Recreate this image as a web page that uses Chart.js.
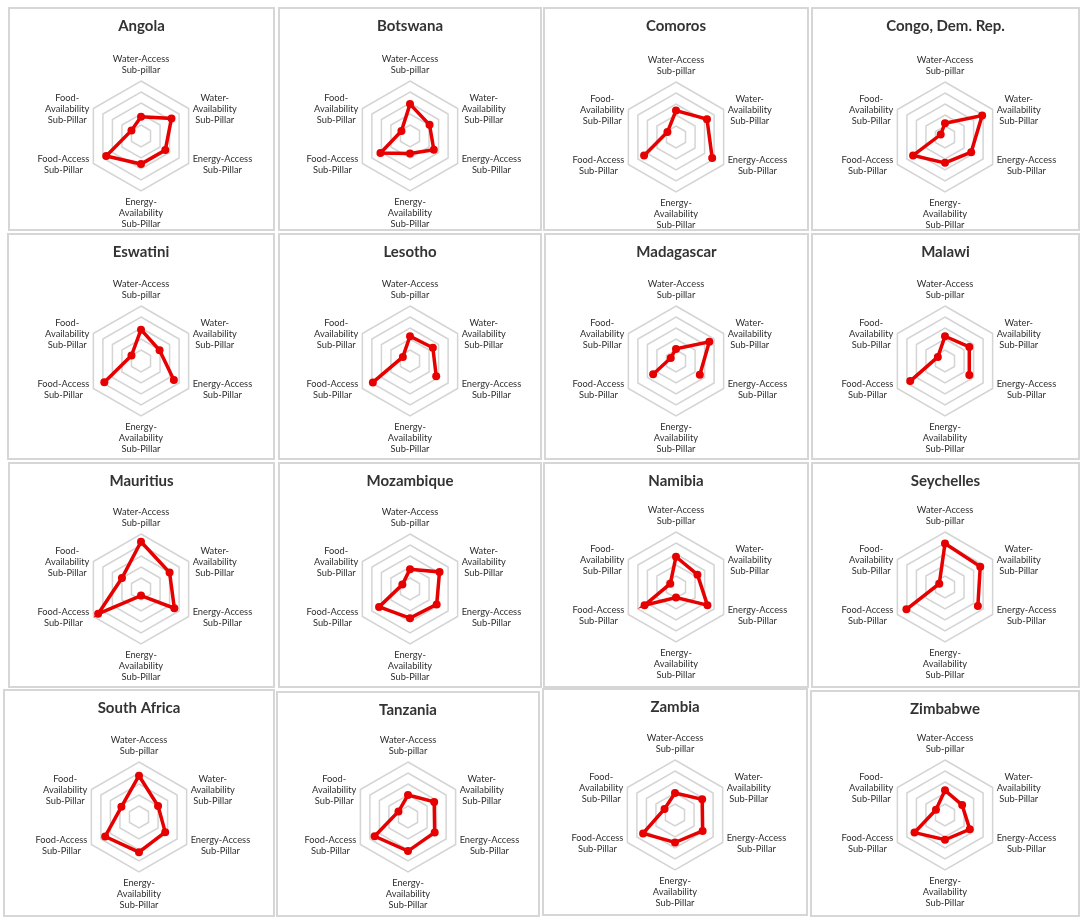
<!DOCTYPE html>
<html>
<head>
<meta charset="utf-8">
<script src="https://cdn.jsdelivr.net/npm/chart.js@4.4.1/dist/chart.umd.min.js"></script>
<style>
  body { margin: 0; background: #fff; }
  #wrap { position: relative; width: 1084px; height: 922px; overflow: hidden; }
  .panel { position: absolute; box-sizing: border-box; border: 2px solid #d6d6d6; background: #fff; }
  .panel canvas { position: absolute; left: 0; top: 0; }
</style>
</head>
<body>
<div id="wrap"></div>
<script>
// axis labels (clockwise from top)
const axisLabels = [
  ["Water-Access", "Sub-pillar"],
  ["Water-", "Availability", "Sub-Pillar"],
  ["Energy-Access", "Sub-Pillar"],
  ["Energy-", "Availability", "Sub-Pillar"],
  ["Food-Access", "Sub-Pillar"],
  ["Food-", "Availability", "Sub-Pillar"]
];

// sub-pillar scores, same order as axisLabels (null = no value)
const angola      = [0.35, 0.64, 0.51, 0.51, 0.73, 0.20];
const botswana    = [0.58, 0.41, 0.50, 0.32, 0.62, 0.18];
const comoros     = [0.48, 0.65, 0.76, null, 0.67, 0.18];
const congo       = [0.25, 0.78, 0.55, 0.47, 0.67, 0.09];
const eswatini    = [0.57, 0.39, 0.69, null, 0.77, 0.20];
const lesotho     = [0.45, 0.48, 0.55, null, 0.78, 0.15];
const madagascar  = [0.22, 0.70, 0.50, null, 0.48, 0.11];
const malawi      = [0.45, 0.51, 0.51, null, 0.73, 0.15];
const mauritius   = [0.86, 0.60, 0.70, 0.12, 0.90, 0.40];
const mozambique  = [0.36, 0.62, 0.56, 0.53, 0.65, 0.16];
const namibia     = [0.55, 0.45, 0.66, 0.19, 0.66, 0.12];
const seychelles  = [0.79, 0.74, 0.69, null, 0.81, 0.12];
const southAfrica = [0.75, 0.40, 0.55, 0.64, 0.71, 0.37];
const tanzania    = [0.40, 0.55, 0.56, 0.62, 0.70, 0.20];
const zambia      = [0.40, 0.57, 0.58, 0.50, 0.67, 0.22];
const zimbabwe    = [0.45, 0.36, 0.52, 0.45, 0.64, 0.19];

const countries = ["Angola", "Botswana", "Comoros", "Congo, Dem. Rep.",
  "Eswatini", "Lesotho", "Madagascar", "Malawi",
  "Mauritius", "Mozambique", "Namibia", "Seychelles",
  "South Africa", "Tanzania", "Zambia", "Zimbabwe"];
const series = [angola, botswana, comoros, congo,
  eswatini, lesotho, madagascar, malawi,
  mauritius, mozambique, namibia, seychelles,
  southAfrica, tanzania, zambia, zimbabwe];

// panel boxes on the page: x, y, w, h, chart centre y inside panel
const boxes = [
  [8, 7, 267, 224, 129], [278, 7, 264, 224, 129], [543, 7, 266, 224, 130], [811, 7, 269, 224, 130],
  [7, 233, 268, 227, 128], [278, 233, 264, 227, 128], [544, 233, 265, 227, 128], [811, 233, 269, 227, 128],
  [8, 462, 267, 226, 127], [278, 462, 264, 226, 127], [543, 462, 266, 226, 125], [811, 462, 269, 226, 125],
  [3, 689, 272, 228, 128], [276, 691, 264, 226, 126], [542, 688, 266, 228, 127], [810, 690, 270, 227, 125]
];

Chart.defaults.font.family = "Lato, 'Open Sans', sans-serif";

const RED = "#e60000";
const R = 55;

// axis labels placed around the outer ring, Excel style
const axisLabelPlugin = {
  id: "axisLabels",
  afterDatasetsDraw(chart) {
    const ctx = chart.ctx;
    const r = chart.scales.r;
    const lh = 11;
    ctx.save();
    ctx.font = "9.3px Lato";
    ctx.fillStyle = "#2e2e2e";
    ctx.textAlign = "center";
    ctx.textBaseline = "middle";
    axisLabels.forEach((lines, i) => {
      const v = r.getPointPosition(i, r.drawingArea);
      const bw = Math.max(...lines.map(t => ctx.measureText(t).width));
      let cx, y0;
      if (i === 0) {
        cx = v.x; y0 = v.y - 11.5 - (lines.length - 1) * lh;
      } else if (i === 3) {
        cx = v.x; y0 = v.y + 10.5;
      } else if (i < 3) {
        cx = v.x + 4 + bw / 2; y0 = v.y + 0.5 - (lines.length - 1) * lh / 2;
      } else {
        cx = v.x - 4 - bw / 2; y0 = v.y + 0.5 - (lines.length - 1) * lh / 2;
      }
      lines.forEach((t, k) => ctx.fillText(t, cx, y0 + k * lh));
    });
    ctx.restore();
  }
};

const wrap = document.getElementById("wrap");

countries.forEach((name, idx) => {
  const [x, y, w, h, cy] = boxes[idx];
  const div = document.createElement("div");
  div.className = "panel";
  div.style.left = x + "px";
  div.style.top = y + "px";
  div.style.width = w + "px";
  div.style.height = h + "px";
  const cw = w - 4, ch = h - 4;
  const canvas = document.createElement("canvas");
  canvas.width = cw;
  canvas.height = ch;
  canvas.style.width = cw + "px";
  canvas.style.height = ch + "px";
  div.appendChild(canvas);
  wrap.appendChild(div);

  const c = cy - 2; // centre inside canvas
  new Chart(canvas.getContext("2d"), {
    type: "radar",
    data: {
      labels: axisLabels,
      datasets: [{
        data: series[idx],
        borderColor: RED,
        backgroundColor: RED,
        borderWidth: 3.5,
        pointRadius: 4,
        pointBorderWidth: 0,
        pointBackgroundColor: RED,
        fill: false,
        spanGaps: false
      }]
    },
    options: {
      responsive: false,
      animation: false,
      layout: { padding: { top: 0, bottom: ch - (c + R), left: 0, right: 0 } },
      plugins: {
        legend: { display: false },
        tooltip: { enabled: false },
        title: {
          display: true,
          text: name,
          color: "#333333",
          font: { size: 15, weight: "bold" },
          padding: { top: 8, bottom: (c - R) - 8 - 18 }
        }
      },
      scales: {
        r: {
          min: 0,
          max: 1,
          ticks: { display: false, stepSize: 0.2 },
          grid: { color: "#d4d4d4", lineWidth: 1.5 },
          angleLines: { display: false },
          pointLabels: { display: false }
        }
      }
    },
    plugins: [axisLabelPlugin]
  });
});
</script>
</body>
</html>
